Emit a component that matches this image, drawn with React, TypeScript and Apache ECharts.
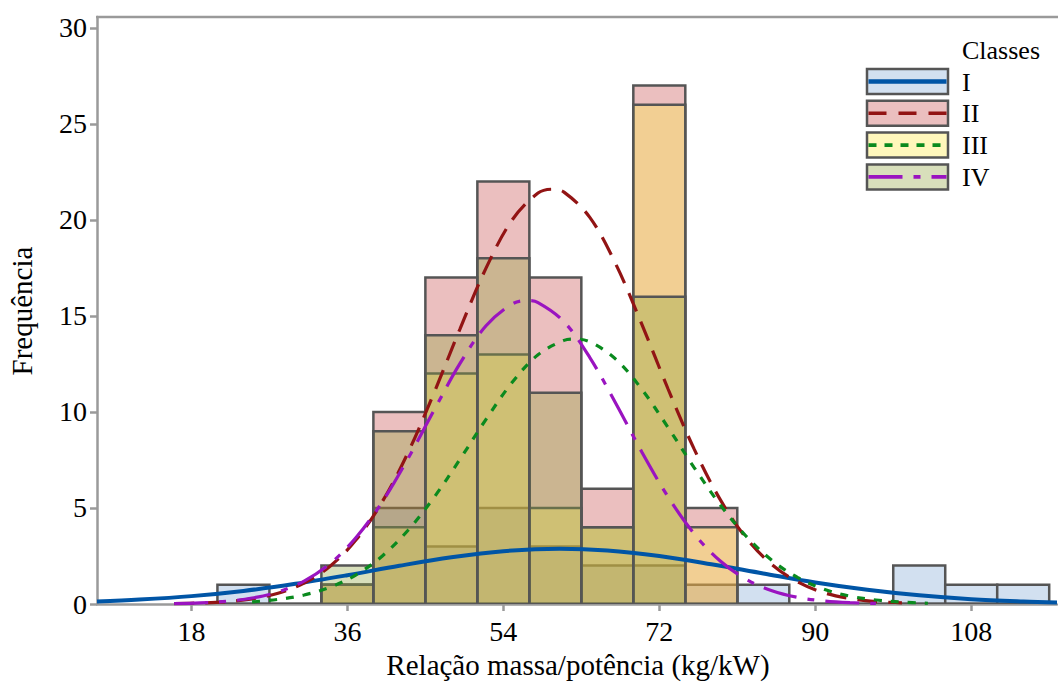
import React, { useEffect, useRef } from "react";
import * as echarts from "echarts";

// ---------- data ----------
const binEdges = [21, 27, 33, 39, 45, 51, 57, 63, 69, 75, 81, 87, 93, 99, 105, 111, 117];
const classNames = ["I", "II", "III", "IV"];
const countsI = [1, 0, 1, 5, 3, 5, 3, 2, 2, 1, 1, 0, 0, 2, 1, 1];
const countsII = [0, 0, 1, 10, 17, 22, 17, 6, 27, 5, 0, 0, 0, 0, 0, 0];
const countsIII = [0, 0, 1, 4, 12, 13, 5, 4, 26, 4, 0, 0, 0, 0, 0, 0];
const countsIV = [0, 0, 2, 9, 14, 18, 11, 4, 16, 0, 0, 0, 0, 0, 0, 0];

const curveXI = [7.1, 12, 18, 24, 30, 36, 42, 48, 54, 60.5, 66, 72, 78, 84, 90, 96, 102, 108, 114, 117.9];
const curveYI = [0.13, 0.23, 0.41, 0.68, 1.05, 1.5, 1.99, 2.43, 2.75, 2.88, 2.79, 2.5, 2.07, 1.59, 1.12, 0.74, 0.45, 0.25, 0.13, 0.08];
const curveXII = [16, 19, 22, 25, 28, 31, 34, 37, 40, 43, 46, 49, 52, 55, 58, 59.6, 61, 64, 67, 70, 73, 76, 79, 82, 85, 88, 91, 94, 97, 100];
const curveYII = [0.02, 0.05, 0.12, 0.27, 0.56, 1.09, 1.97, 3.34, 5.31, 7.89, 11.0, 14.33, 17.49, 19.99, 21.4, 21.6, 21.45, 20.12, 17.68, 14.55, 11.21, 8.09, 5.46, 3.45, 2.05, 1.14, 0.59, 0.29, 0.13, 0.06];
const curveXIII = [25, 28, 31, 34, 37, 40, 43, 46, 49, 52, 55, 58, 61, 62.2, 64, 67, 70, 73, 76, 79, 82, 85, 88, 91, 94, 97, 100, 103];
const curveYIII = [0.11, 0.24, 0.47, 0.87, 1.52, 2.49, 3.84, 5.55, 7.54, 9.62, 11.53, 12.98, 13.73, 13.8, 13.65, 12.74, 11.17, 9.2, 7.12, 5.18, 3.54, 2.27, 1.37, 0.77, 0.41, 0.21, 0.1, 0.04];
const curveXIV = [16, 19, 22, 25, 28, 31, 34, 37, 40, 43, 46, 49, 52, 55, 56.7, 58, 61, 64, 67, 70, 73, 76, 79, 82, 85, 88, 91, 94, 97];
const curveYIV = [0.02, 0.06, 0.14, 0.31, 0.63, 1.19, 2.1, 3.46, 5.3, 7.58, 10.09, 12.53, 14.49, 15.62, 15.8, 15.7, 14.7, 12.82, 10.43, 7.9, 5.59, 3.67, 2.25, 1.29, 0.69, 0.34, 0.16, 0.07, 0.03];

const xTicks = [18, 36, 54, 72, 90, 108];
const yTicks = [0, 5, 10, 15, 20, 25, 30];
const xTitle = "Relação massa/potência (kg/kW)";
const yTitle = "Frequência";
const legendTitle = "Classes";

// ---------- styles ----------
const FONT = "Liberation Serif, Times New Roman, serif";
const fills = ["rgb(210,224,240)", "rgba(188,42,42,0.3)", "rgba(255,234,76,0.38)", "rgba(144,164,61,0.35)"];
const lineColors = ["#0055a6", "#921414", "#0a8a1e", "#9a14c0"];
const lineWidths = [4, 3.2, 3.2, 3.2];
const lineDashes: any[] = ["solid", [20, 11], [8, 9], [34, 11, 7, 11]];
const legendDashes: any[] = [null, [18, 12], [8, 8], [34, 11, 7, 11]];
const OUTLINE = "#555555";
const AXIS = "#9a9a9a";

const counts = [countsI, countsII, countsIII, countsIV];
const curvesX = [curveXI, curveXII, curveXIII, curveXIV];
const curvesY = [curveYI, curveYII, curveYIII, curveYIV];

export default function App() {
  const ref = useRef<HTMLDivElement>(null);
  useEffect(() => {
    if (!ref.current) return;
    const chart = echarts.init(ref.current, null, { renderer: "svg" });

    const histSeries = counts.map((c, k) => ({
      type: "custom",
      name: classNames[k],
      z: 2 + k,
      clip: true,
      encode: { x: [0, 1], y: 2 },
      data: c.map((v, i) => [binEdges[i], binEdges[i + 1], v]),
      renderItem: (params: any, api: any) => {
        const p0 = api.coord([api.value(0), api.value(2)]);
        const p1 = api.coord([api.value(1), 0]);
        return {
          type: "rect",
          shape: { x: p0[0], y: p0[1], width: p1[0] - p0[0], height: p1[1] - p0[1] },
          style: { fill: fills[k], stroke: OUTLINE, lineWidth: 2.5 },
        };
      },
    }));

    const curveSeries = curvesX.map((xs, k) => ({
      type: "line",
      name: classNames[k] + " normal",
      z: 20 + k,
      smooth: 0.35,
      showSymbol: false,
      symbol: "none",
      data: xs.map((x, i) => [x, curvesY[k][i]]),
      lineStyle: { color: lineColors[k], width: lineWidths[k], type: lineDashes[k] },
    }));

    const textStyle = (t: string, size: number, align = "left") => ({
      text: t,
      fill: "#000",
      fontSize: size,
      fontFamily: FONT,
      align,
      textAlign: align,
      verticalAlign: "middle",
      textVerticalAlign: "middle",
    });

    const legendX = 867;
    const legendY0 = 69;
    const legendStep = 31.8;
    const els: any[] = [{ type: "text", x: 962, y: 50, style: textStyle(legendTitle, 26), z: 101 }];
    classNames.forEach((n, k) => {
      const y = legendY0 + k * legendStep;
      els.push({
        type: "rect",
        shape: { x: legendX, y, width: 81, height: 25 },
        style: { fill: fills[k], stroke: OUTLINE, lineWidth: 2.5 },
        z: 100,
      });
      els.push({
        type: "line",
        shape: { x1: legendX + 1.5, y1: y + 12.5, x2: legendX + 79.5, y2: y + 12.5 },
        style: { stroke: lineColors[k], lineWidth: lineWidths[k] + 0.4, lineDash: legendDashes[k] || undefined },
        z: 101,
      });
      els.push({ type: "text", x: 962, y: y + 13, style: textStyle(n, 26), z: 101 });
    });
    // axis titles
    els.push({ type: "text", x: 578, y: 665, style: textStyle(xTitle, 29, "center"), z: 101 });
    els.push({ type: "text", x: 22, y: 311, rotation: Math.PI / 2, style: textStyle(yTitle, 29, "center"), z: 101 });
    // top frame line
    els.push({
      type: "line",
      shape: { x1: 96, y1: 17, x2: 1058, y2: 17 },
      style: { stroke: AXIS, lineWidth: 2.5 },
      z: 50,
    });

    chart.setOption({
      animation: false,
      backgroundColor: "#ffffff",
      textStyle: { fontFamily: FONT },
      grid: { left: 97, right: 1, top: 17, bottom: 87, containLabel: false },
      xAxis: {
        type: "value",
        min: 7.1,
        max: 117.9,
        offset: 1.5,
        axisLine: { lineStyle: { color: AXIS, width: 2.5 } },
        axisTick: { customValues: xTicks, length: 7, lineStyle: { color: AXIS, width: 2.5 } },
        axisLabel: { customValues: xTicks, color: "#000", fontSize: 28, fontFamily: FONT, margin: 12 },
        splitLine: { show: false },
      },
      yAxis: {
        type: "value",
        min: 0,
        max: 30.57,
        axisLine: { show: true, lineStyle: { color: AXIS, width: 2.5 } },
        axisTick: { show: true, customValues: yTicks, length: 7, lineStyle: { color: AXIS, width: 2.5 } },
        axisLabel: { customValues: yTicks, color: "#000", fontSize: 28, fontFamily: FONT, margin: 10 },
        splitLine: { show: false },
      },
      graphic: { elements: els },
      series: [...histSeries, ...curveSeries],
    });
    return () => chart.dispose();
  }, []);
  return <div ref={ref} style={{ position: "absolute", left: 0, top: 0, width: 1058, height: 691 }} />;
}
